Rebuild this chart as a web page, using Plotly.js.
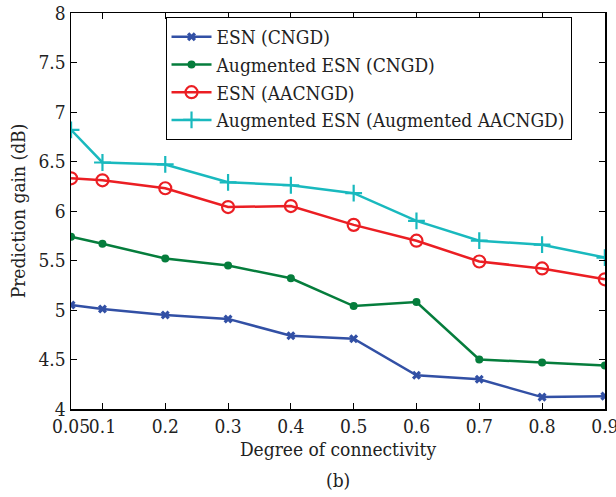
<!DOCTYPE html>
<html>
<head>
<meta charset="utf-8">
<script src="https://cdn.plot.ly/plotly-3.0.1.min.js"></script>
<style>html,body{margin:0;padding:0;background:#fff;}#chart{width:616px;height:497px;}</style>
</head>
<body>
<div id="chart"></div>
<script>
const connectivity = [0.05, 0.1, 0.2, 0.3, 0.4, 0.5, 0.6, 0.7, 0.8, 0.9];
const esnCNGD = [5.05, 5.01, 4.95, 4.91, 4.74, 4.71, 4.34, 4.30, 4.12, 4.13];
const augEsnCNGD = [5.74, 5.67, 5.52, 5.45, 5.32, 5.04, 5.08, 4.50, 4.47, 4.44];
const esnAACNGD = [6.33, 6.31, 6.23, 6.04, 6.05, 5.86, 5.70, 5.49, 5.42, 5.31];
const augEsnAugAACNGD = [6.82, 6.49, 6.47, 6.29, 6.26, 6.18, 5.90, 5.70, 5.66, 5.53];
const seriesNames = ['ESN (CNGD)', 'Augmented ESN (CNGD)', 'ESN (AACNGD)', 'Augmented ESN (Augmented AACNGD)'];
const xTickVals = [0.05, 0.1, 0.2, 0.3, 0.4, 0.5, 0.6, 0.7, 0.8, 0.9];
const xTickText = ['0.05', '0.1', '0.2', '0.3', '0.4', '0.5', '0.6', '0.7', '0.8', '0.9'];
const yTickVals = [4, 4.5, 5, 5.5, 6, 6.5, 7, 7.5, 8];
const yTickText = ['4', '4.5', '5', '5.5', '6', '6.5', '7', '7.5', '8'];

const font = 'DejaVu Serif Condensed, DejaVu Serif';
const traces = [
  {x: connectivity, y: esnCNGD, name: seriesNames[0], mode: 'lines+markers',
   line: {color: 'rgb(50,80,165)', width: 2.5},
   marker: {symbol: 'x', size: 8, color: 'rgb(50,80,165)'}},
  {x: connectivity, y: augEsnCNGD, name: seriesNames[1], mode: 'lines+markers',
   line: {color: 'rgb(5,125,60)', width: 2.5},
   marker: {symbol: 'circle', size: 8, color: 'rgb(5,125,60)'}},
  {x: connectivity, y: esnAACNGD, name: seriesNames[2], mode: 'lines+markers',
   line: {color: 'rgb(235,30,35)', width: 2.5},
   marker: {symbol: 'circle-open', size: 12, color: 'rgb(235,30,35)', line: {width: 2.2}}},
  {x: connectivity, y: augEsnAugAACNGD, name: seriesNames[3], mode: 'lines+markers',
   line: {color: 'rgb(25,185,190)', width: 2.5},
   marker: {symbol: 'cross-thin-open', size: 12, color: 'rgb(25,185,190)', line: {width: 2.2}}}
];

const layout = {
  width: 616, height: 497,
  margin: {l: 71, r: 11, t: 13, b: 88},
  paper_bgcolor: '#fff', plot_bgcolor: '#fff',
  font: {family: font, size: 19, color: '#222'},
  showlegend: true,
  legend: {x: 0.177, y: 0.99, xanchor: 'left', yanchor: 'top',
    bordercolor: '#000', borderwidth: 1, bgcolor: '#fff',
    font: {family: font, size: 19, color: '#222'}, tracegroupgap: 0,
    itemwidth: 40},
  xaxis: {range: [0.0499, 0.9002], tickvals: xTickVals, ticktext: xTickText, tickangle: 0,
    ticks: 'inside', ticklen: 6, tickcolor: '#000', showline: true, linecolor: '#000', linewidth: 1.5,
    mirror: 'ticks', showgrid: false, zeroline: false, ticklabeloverflow: 'allow',
    title: {text: 'Degree of connectivity', font: {family: font, size: 19}, standoff: 6},
    tickfont: {family: font, size: 19}},
  yaxis: {range: [4, 8], tickvals: yTickVals, ticktext: yTickText,
    ticks: 'inside', ticklen: 6, tickcolor: '#000', showline: true, linecolor: '#000', linewidth: 1.5,
    mirror: 'ticks', showgrid: false, zeroline: false,
    title: {text: 'Prediction gain (dB)', font: {family: font, size: 19}, standoff: 8},
    tickfont: {family: font, size: 19}},
  annotations: [{text: '(b)', xref: 'paper', yref: 'paper', x: 0.5, y: -0.18,
    xanchor: 'center', yanchor: 'middle', showarrow: false, font: {family: font, size: 19}}]
};

Plotly.newPlot('chart', traces, layout, {displayModeBar: false, staticPlot: true});
</script>
</body>
</html>
